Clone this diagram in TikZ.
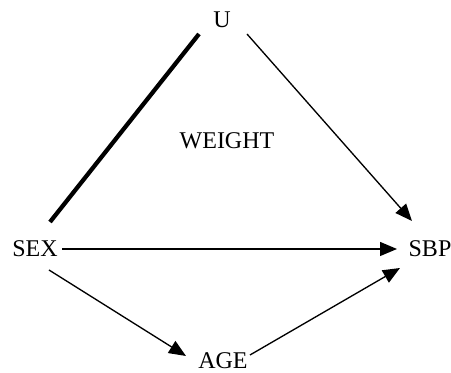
\documentclass[tikz,border=0pt]{standalone}
\usepackage{fontspec}
\setmainfont{Liberation Serif}
\usetikzlibrary{arrows.meta}
\begin{document}
\begin{tikzpicture}[x=0.75pt,y=-0.75pt,
  lbl/.style={inner sep=0pt,font=\fontsize{18}{20}\selectfont},
  thin/.style={line width=1pt},
  arr/.style={line width=1pt,-{Triangle[length=12.75pt,width=10.5pt]}},
  thickline/.style={line width=3.2pt}]
\useasboundingbox (0,0) rectangle (451,373);
\node[lbl] (u) at (222,20) {U};
\node[lbl] (weight) at (227,141) {WEIGHT};
\node[lbl] (sex) at (35,249) {SEX};
\node[lbl] (sbp) at (430,249) {SBP};
\node[lbl] (age) at (223,361) {AGE};
\draw[thickline] ([xshift=11.25pt,yshift=20.25pt]sex.center) -- ([xshift=-17.25pt,yshift=-10.5pt]u.center);
\draw[arr] ([xshift=18.75pt,yshift=-10.5pt]u.center) -- ([xshift=-13.5pt,yshift=21pt]sbp.center);
\draw[arr] ([xshift=20.25pt]sex.center) -- ([xshift=-24.75pt]sbp.center);
\draw[arr] ([xshift=10.5pt,yshift=-15.75pt]sex.center) -- ([xshift=-27.75pt,yshift=3.75pt]age.center);
\draw[arr] ([xshift=20.25pt,yshift=4.5pt]age.center) -- ([xshift=-22.5pt,yshift=-14.25pt]sbp.center);
\end{tikzpicture}
\end{document}
